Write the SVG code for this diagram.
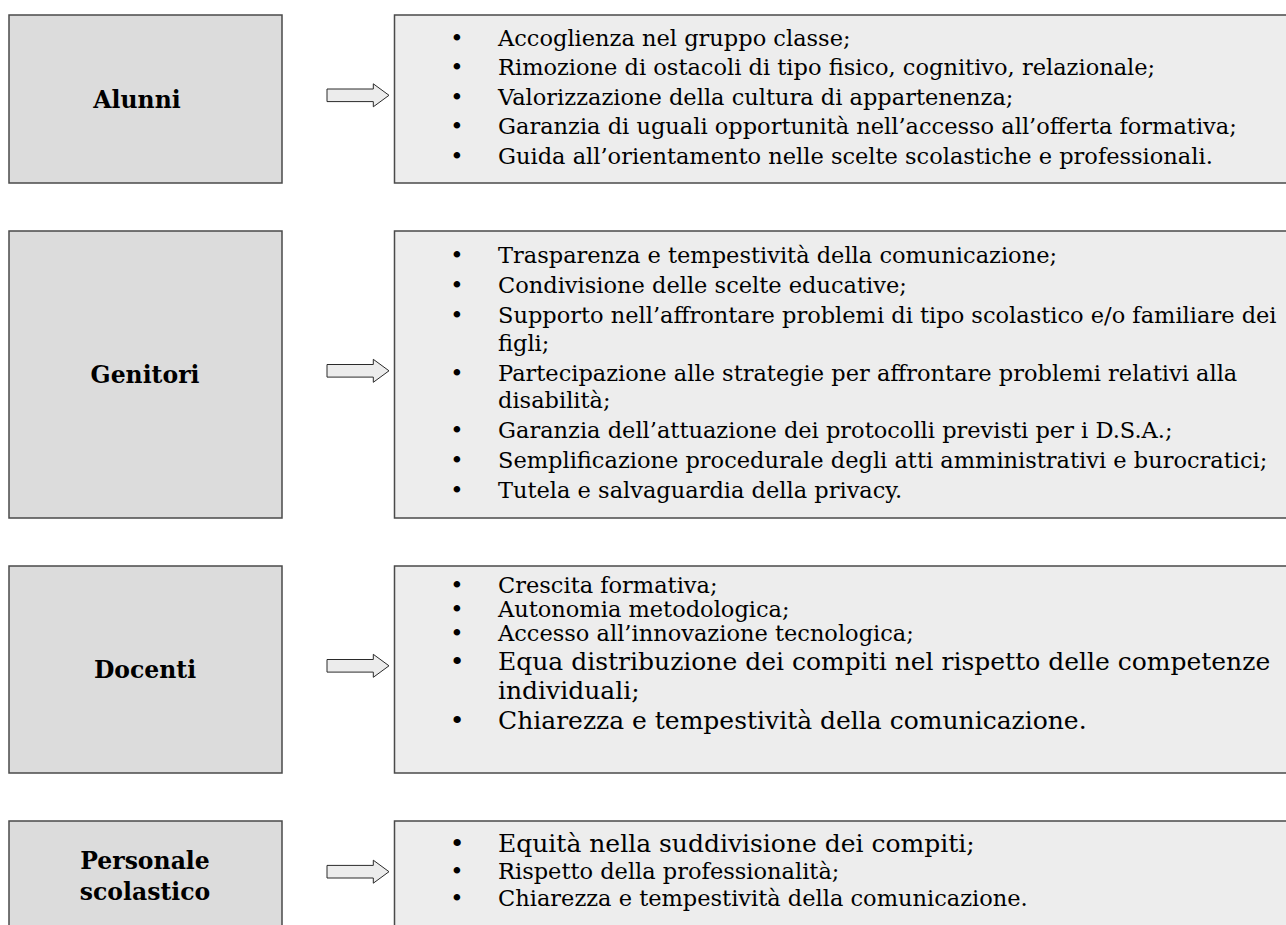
<svg xmlns="http://www.w3.org/2000/svg" width="1286" height="925" viewBox="0 0 1286 925">
<style>
.lbox{fill:#dcdcdc;stroke:#4a4a4a;stroke-width:1.5}
.rbox{fill:#ededed;stroke:#4a4a4a;stroke-width:1.5}
.lab{font-family:"DejaVu Serif","Liberation Serif",serif;font-weight:bold;font-size:23.5px;fill:#000;text-anchor:middle}
.t{font-family:"DejaVu Serif","Liberation Serif",serif;font-size:22.5px;fill:#000}
.tl{font-family:"DejaVu Serif","Liberation Serif",serif;font-size:25px;fill:#000}
.b{text-anchor:middle}
.arr{fill:#ececec;stroke:#2a2a2a;stroke-width:1}
</style>
<rect width="1286" height="925" fill="#ffffff"/>

<g id="alunni">
<rect class="lbox" x="9" y="15" width="273" height="168"/>
<text class="lab" x="137" y="108">Alunni</text>
</g>
<g id="alunni-list">
<rect class="rbox" x="394.5" y="15" width="900" height="168"/>
<g class="t">
<text class="t b" x="457" y="45.5">•</text><text class="t" x="498" y="45.5">Accoglienza nel gruppo classe;</text>
<text class="t b" x="457" y="75">•</text><text class="t" x="498" y="75">Rimozione di ostacoli di tipo fisico, cognitivo, relazionale;</text>
<text class="t b" x="457" y="104.5">•</text><text class="t" x="498" y="104.5">Valorizzazione della cultura di appartenenza;</text>
<text class="t b" x="457" y="134">•</text><text class="t" x="498" y="134">Garanzia di uguali opportunità nell’accesso all’offerta formativa;</text>
<text class="t b" x="457" y="163.5">•</text><text class="t" x="498" y="163.5">Guida all’orientamento nelle scelte scolastiche e professionali.</text>
</g>
</g>

<g id="genitori">
<rect class="lbox" x="9" y="231" width="273" height="287"/>
<text class="lab" x="145" y="383">Genitori</text>
</g>
<g id="genitori-list">
<rect class="rbox" x="394.5" y="231" width="900" height="287"/>
<text class="t b" x="457" y="263">•</text><text class="t" x="498" y="263">Trasparenza e tempestività della comunicazione;</text>
<text class="t b" x="457" y="293">•</text><text class="t" x="498" y="293">Condivisione delle scelte educative;</text>
<text class="t b" x="457" y="323">•</text><text class="t" x="498" y="323">Supporto nell’affrontare problemi di tipo scolastico e/o familiare dei</text>
<text class="t" x="498" y="350.5">figli;</text>
<text class="t b" x="457" y="380.5">•</text><text class="t" x="498" y="380.5">Partecipazione alle strategie per affrontare problemi relativi alla</text>
<text class="t" x="498" y="408">disabilità;</text>
<text class="t b" x="457" y="438">•</text><text class="t" x="498" y="438">Garanzia dell’attuazione dei protocolli previsti per i D.S.A.;</text>
<text class="t b" x="457" y="468">•</text><text class="t" x="498" y="468">Semplificazione procedurale degli atti amministrativi e burocratici;</text>
<text class="t b" x="457" y="498">•</text><text class="t" x="498" y="498">Tutela e salvaguardia della privacy.</text>
</g>

<g id="docenti">
<rect class="lbox" x="9" y="566" width="273" height="207"/>
<text class="lab" x="145" y="678">Docenti</text>
</g>
<g id="docenti-list">
<rect class="rbox" x="394.5" y="566" width="900" height="207"/>
<text class="t b" x="457" y="593">•</text><text class="t" x="498" y="593">Crescita formativa;</text>
<text class="t b" x="457" y="617">•</text><text class="t" x="498" y="617">Autonomia metodologica;</text>
<text class="t b" x="457" y="641">•</text><text class="t" x="498" y="641">Accesso all’innovazione tecnologica;</text>
<text class="tl b" x="457" y="670">•</text><text class="tl" x="498" y="670">Equa distribuzione dei compiti nel rispetto delle competenze</text>
<text class="tl" x="498" y="699">individuali;</text>
<text class="tl b" x="457" y="729">•</text><text class="tl" x="498" y="729">Chiarezza e tempestività della comunicazione.</text>
</g>

<g id="personale">
<rect class="lbox" x="9" y="821" width="273" height="120"/>
<text class="lab" x="145" y="869">Personale</text>
<text class="lab" x="145" y="900">scolastico</text>
</g>
<g id="personale-list">
<rect class="rbox" x="394.5" y="821" width="900" height="120"/>
<text class="tl b" x="457" y="852">•</text><text class="tl" x="498" y="852">Equità nella suddivisione dei compiti;</text>
<text class="t b" x="457" y="879">•</text><text class="t" x="498" y="879">Rispetto della professionalità;</text>
<text class="t b" x="457" y="906">•</text><text class="t" x="498" y="906">Chiarezza e tempestività della comunicazione.</text>
</g>

<g id="connectors">
<polygon class="arr" points="327,89 373.3,89 373.3,83.8 389,95.3 373.3,106.8 373.3,101.6 327,101.6"/>
<polygon class="arr" points="327,364.5 373.3,364.5 373.3,359.3 389,370.8 373.3,382.3 373.3,377.1 327,377.1"/>
<polygon class="arr" points="327,659.5 373.3,659.5 373.3,654.3 389,665.8 373.3,677.3 373.3,672.1 327,672.1"/>
<polygon class="arr" points="327,865.4 373.3,865.4 373.3,860.2 389,871.7 373.3,883.2 373.3,878 327,878"/>
</g>
</svg>
